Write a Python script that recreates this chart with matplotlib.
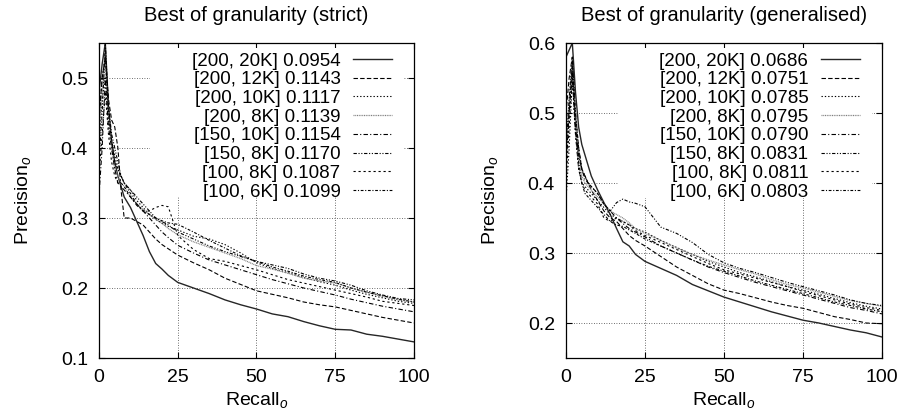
import numpy as np
import matplotlib
matplotlib.use('Agg')
import matplotlib.pyplot as plt
from matplotlib.patches import Rectangle

plt.rcParams['font.family'] = ['Liberation Sans', 'DejaVu Sans']
plt.rcParams['mathtext.fontset'] = 'custom'
plt.rcParams['mathtext.rm'] = 'Liberation Sans'
plt.rcParams['mathtext.it'] = 'Liberation Sans:italic'

recall = [0, 1, 2, 3, 4, 5, 6, 7, 8, 10, 12, 14, 16, 18, 20, 22, 25,
          30, 35, 40, 45, 50, 55, 60, 65, 70, 75, 80, 85, 90, 95, 100]

labels_strict = ['[200, 20K] 0.0954', '[200, 12K] 0.1143', '[200, 10K] 0.1117',
                 '[200, 8K] 0.1139', '[150, 10K] 0.1154', '[150, 8K] 0.1170',
                 '[100, 8K] 0.1087', '[100, 6K] 0.1099']
labels_gen = ['[200, 20K] 0.0686', '[200, 12K] 0.0751', '[200, 10K] 0.0785',
              '[200, 8K] 0.0795', '[150, 10K] 0.0790', '[150, 8K] 0.0831',
              '[100, 8K] 0.0811', '[100, 6K] 0.0803']

strict = [
    [0.48, 0.52, 0.55, 0.46, 0.41, 0.38, 0.36, 0.345, 0.33, 0.315, 0.295, 0.275,
     0.252, 0.235, 0.227, 0.218, 0.208, 0.200, 0.192, 0.183, 0.176, 0.170, 0.163,
     0.159, 0.152, 0.146, 0.141, 0.140, 0.134, 0.131, 0.127, 0.123],
    [0.44, 0.50, 0.53, 0.47, 0.44, 0.43, 0.40, 0.34, 0.30, 0.30, 0.295, 0.29,
     0.28, 0.27, 0.262, 0.256, 0.247, 0.236, 0.226, 0.214, 0.205, 0.196, 0.191,
     0.186, 0.180, 0.176, 0.173, 0.168, 0.163, 0.158, 0.154, 0.150],
    [0.40, 0.47, 0.50, 0.44, 0.41, 0.39, 0.37, 0.36, 0.35, 0.34, 0.325, 0.315,
     0.305, 0.298, 0.293, 0.288, 0.283, 0.274, 0.270, 0.262, 0.250, 0.236, 0.228,
     0.222, 0.215, 0.209, 0.204, 0.197, 0.191, 0.186, 0.181, 0.178],
    [0.42, 0.48, 0.52, 0.45, 0.40, 0.37, 0.36, 0.35, 0.345, 0.33, 0.32, 0.312,
     0.305, 0.298, 0.292, 0.285, 0.276, 0.266, 0.258, 0.250, 0.242, 0.232, 0.227,
     0.221, 0.214, 0.210, 0.207, 0.200, 0.194, 0.188, 0.183, 0.180],
    [0.333, 0.40, 0.50, 0.43, 0.40, 0.37, 0.35, 0.345, 0.34, 0.33, 0.318, 0.31,
     0.30, 0.29, 0.28, 0.272, 0.261, 0.250, 0.240, 0.233, 0.226, 0.219, 0.212,
     0.206, 0.200, 0.195, 0.190, 0.184, 0.179, 0.174, 0.170, 0.166],
    [0.38, 0.45, 0.55, 0.46, 0.42, 0.40, 0.38, 0.36, 0.35, 0.34, 0.33, 0.32,
     0.31, 0.30, 0.295, 0.29, 0.28, 0.270, 0.260, 0.252, 0.245, 0.238, 0.233,
     0.228, 0.220, 0.214, 0.210, 0.204, 0.196, 0.190, 0.185, 0.183],
    [0.36, 0.42, 0.48, 0.42, 0.38, 0.36, 0.35, 0.35, 0.345, 0.33, 0.32, 0.31,
     0.31, 0.315, 0.318, 0.316, 0.275, 0.255, 0.242, 0.238, 0.232, 0.226, 0.219,
     0.212, 0.207, 0.202, 0.197, 0.192, 0.187, 0.181, 0.178, 0.175],
    [0.44, 0.50, 0.53, 0.45, 0.41, 0.38, 0.37, 0.36, 0.35, 0.335, 0.32, 0.31,
     0.305, 0.30, 0.296, 0.293, 0.291, 0.280, 0.268, 0.257, 0.246, 0.238, 0.230,
     0.224, 0.217, 0.212, 0.208, 0.200, 0.194, 0.189, 0.184, 0.180],
]

generalised = [
    [0.58, 0.59, 0.60, 0.53, 0.48, 0.455, 0.44, 0.425, 0.41, 0.39, 0.372, 0.355,
     0.335, 0.316, 0.31, 0.298, 0.288, 0.278, 0.268, 0.255, 0.246, 0.237, 0.230,
     0.223, 0.216, 0.210, 0.204, 0.200, 0.195, 0.190, 0.186, 0.180],
    [0.50, 0.55, 0.58, 0.50, 0.45, 0.42, 0.41, 0.40, 0.39, 0.375, 0.36, 0.35,
     0.345, 0.335, 0.325, 0.318, 0.31, 0.295, 0.280, 0.268, 0.256, 0.247, 0.242,
     0.236, 0.230, 0.225, 0.221, 0.215, 0.209, 0.205, 0.200, 0.199],
    [0.375, 0.45, 0.55, 0.47, 0.42, 0.40, 0.395, 0.39, 0.385, 0.375, 0.365, 0.355,
     0.35, 0.345, 0.34, 0.335, 0.33, 0.318, 0.308, 0.298, 0.288, 0.280, 0.272,
     0.266, 0.259, 0.252, 0.247, 0.241, 0.235, 0.229, 0.224, 0.220],
    [0.45, 0.52, 0.57, 0.50, 0.44, 0.41, 0.40, 0.395, 0.39, 0.38, 0.37, 0.36,
     0.355, 0.35, 0.343, 0.335, 0.328, 0.318, 0.307, 0.298, 0.290, 0.283, 0.276,
     0.270, 0.262, 0.255, 0.250, 0.244, 0.238, 0.232, 0.228, 0.224],
    [0.42, 0.50, 0.56, 0.48, 0.44, 0.42, 0.405, 0.40, 0.395, 0.385, 0.37, 0.36,
     0.35, 0.342, 0.335, 0.33, 0.323, 0.310, 0.300, 0.290, 0.280, 0.272, 0.265,
     0.258, 0.252, 0.246, 0.240, 0.234, 0.228, 0.222, 0.218, 0.213],
    [0.45, 0.52, 0.58, 0.50, 0.45, 0.42, 0.41, 0.40, 0.395, 0.385, 0.37, 0.36,
     0.372, 0.377, 0.373, 0.371, 0.366, 0.337, 0.328, 0.315, 0.298, 0.286, 0.278,
     0.272, 0.265, 0.258, 0.252, 0.246, 0.240, 0.233, 0.228, 0.225],
    [0.40, 0.48, 0.55, 0.47, 0.42, 0.40, 0.39, 0.385, 0.38, 0.37, 0.35, 0.345,
     0.35, 0.345, 0.34, 0.332, 0.325, 0.315, 0.305, 0.295, 0.285, 0.276, 0.270,
     0.264, 0.258, 0.252, 0.245, 0.239, 0.233, 0.227, 0.222, 0.218],
    [0.43, 0.50, 0.57, 0.48, 0.43, 0.40, 0.385, 0.38, 0.375, 0.365, 0.355, 0.345,
     0.34, 0.338, 0.333, 0.328, 0.32, 0.310, 0.300, 0.290, 0.281, 0.274, 0.267,
     0.260, 0.254, 0.248, 0.242, 0.236, 0.230, 0.225, 0.220, 0.216],
]

# gnuplot-like monochrome dash patterns
styles = [
    dict(color='0.15', ls='-', lw=1.0),
    dict(color='black', ls=(0, (4, 2)), lw=0.8),
    dict(color='black', ls=(0, (1.2, 1.8)), lw=0.8),
    dict(color='0.5', ls=(0, (0.8, 0.6)), lw=0.9),
    dict(color='black', ls=(0, (4, 2, 1, 2)), lw=0.8),
    dict(color='black', ls=(0, (3, 1.5, 1, 1.5, 1, 1.5)), lw=0.8),
    dict(color='black', ls=(0, (2, 2.5)), lw=0.8),
    dict(color='black', ls=(0, (2.5, 1.5, 1, 1.5)), lw=0.8),
]


def draw_panel(ax, series, labels, title, ylim, yticks, blank):
    for vals, lab, st in zip(series, labels, styles):
        ax.plot(recall, vals, label=lab, **st)
    ax.set_xlim(0, 100)
    ax.set_ylim(*ylim)
    ax.set_xticks([0, 25, 50, 75, 100])
    ax.set_yticks(yticks)
    ax.set_yticklabels(['%.1f' % t for t in yticks])
    ax.grid(True, color='0.25', linestyle=(0, (1, 2)), linewidth=0.6)
    ax.tick_params(direction='in', top=True, right=True, length=4,
                   width=0.8, labelsize=14, pad=8)
    for sp in ax.spines.values():
        sp.set_linewidth(0.9)
    # blank area behind the key, as gnuplot leaves it
    ax.add_patch(Rectangle((blank[0], blank[1]), blank[2] - blank[0],
                           0.985 - blank[1], transform=ax.transAxes,
                           facecolor='white', edgecolor='none', zorder=1.8))
    ax.set_title(title, fontsize=14.5, pad=15.5)
    ax.set_xlabel('Recall$_o$', fontsize=14, labelpad=3)
    ax.set_ylabel('Precision$_o$', fontsize=14, labelpad=20)
    leg = ax.legend(loc='upper right', bbox_to_anchor=(0.93, 0.97),
                    markerfirst=False, frameon=False, fontsize=13.5,
                    handlelength=2.1, handletextpad=0.65, labelspacing=0.085,
                    borderpad=0, borderaxespad=0)
    return leg


fig = plt.figure(figsize=(9.03, 4.19), dpi=100)
ax1 = fig.add_axes([99 / 903, 61 / 419, 315 / 903, 315 / 419])
ax2 = fig.add_axes([566 / 903, 61 / 419, 316 / 903, 315 / 419])

draw_panel(ax1, strict, labels_strict, 'Best of granularity (strict)',
           (0.1, 0.55), [0.1, 0.2, 0.3, 0.4, 0.5], (0.162, 0.511, 0.965))
draw_panel(ax2, generalised, labels_gen, 'Best of granularity (generalised)',
           (0.15, 0.6), [0.2, 0.3, 0.4, 0.5, 0.6], (0.165, 0.508, 0.968))

fig.savefig('out.png', dpi=100)
